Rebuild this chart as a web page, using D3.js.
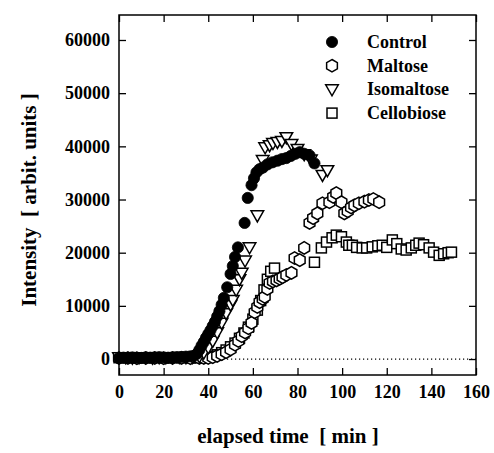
<!DOCTYPE html>
<html>
<head>
<meta charset="utf-8">
<script src="https://cdn.jsdelivr.net/npm/d3@7"></script>
<style>
  body { margin: 0; background: #fff; }
</style>
</head>
<body>
<svg id="chart" width="494" height="453"></svg>
<script>
// elapsed time [min] and intensity [arbit. units]
const controlTime  = [0, 2, 4, 6, 8, 10, 12, 14, 16, 18, 20, 22, 24, 26, 28, 30, 32, 33.5, 35, 36, 37, 38, 39, 40, 41, 42, 43, 44, 45, 46, 47, 48.5, 50, 51, 52, 53.3, 56.3, 57.7, 59.4, 60.5, 61.6, 63, 64.5, 66.5, 68.8, 71, 73, 75, 77, 79, 81, 83, 85.4, 87.6];
const controlValue = [200, 250, 200, 300, 250, 200, 300, 250, 300, 350, 300, 250, 300, 350, 400, 450, 500, 600, 1000, 1700, 2500, 3200, 4000, 4700, 5400, 6200, 7000, 8000, 9000, 10200, 11500, 13500, 16000, 17500, 19200, 21000, 25600, 30300, 32700, 34000, 35100, 35700, 36000, 36600, 37000, 37300, 37600, 37800, 38200, 38600, 38900, 38600, 38300, 36800];

const maltoseTime  = [0, 4, 8, 12, 16, 20, 24, 28, 32, 36, 38, 40, 42, 44, 46, 48, 50, 52, 53.5, 55, 56.5, 58, 59.4, 60.8, 62, 63, 64.4, 65.3, 66.5, 67.5, 69, 70.6, 72, 73.3, 75, 77.3, 78.7, 81, 83, 85.4, 87, 88.9, 91.2, 94.3, 96, 97.4, 99.7, 101, 102.5, 104, 105.5, 107.5, 110, 112, 114, 116.6];
const maltoseValue = [200, 200, 150, 200, 200, 150, 200, 200, 150, 200, 200, 200, 350, 600, 900, 1300, 1800, 2700, 3400, 4300, 5000, 5800, 6800, 8800, 9800, 10700, 11300, 11700, 13200, 14300, 14600, 14800, 15100, 15400, 15800, 16200, 19000, 18600, 20900, 25600, 26500, 27400, 29300, 29500, 30500, 31200, 29500, 27400, 27800, 28500, 28900, 29300, 29600, 29900, 30100, 29500];

const isomaltoseTime  = [0, 3, 6, 9, 12, 15, 18, 21, 24, 27, 30, 33, 36, 38, 40, 42, 44, 46, 48, 50, 51, 52.5, 54, 55, 56.5, 58.5, 62, 64.4, 65.5, 67.5, 69, 71, 73, 75, 77.3, 80, 83, 86, 91.2, 93.4];
const isomaltoseValue = [300, 300, 250, 300, 300, 250, 300, 300, 300, 350, 300, 350, 500, 1200, 2200, 3400, 5000, 6800, 8600, 10200, 11100, 13000, 15000, 16200, 18500, 21000, 27000, 37400, 39800, 40200, 40600, 40800, 41000, 41700, 40400, 39500, 38500, 37500, 34600, 35500];

const cellobioseTime  = [0, 4, 8, 12, 16, 20, 24, 28, 32, 36, 38, 40, 42, 44, 46, 48, 50, 52, 54, 56, 58, 60, 62, 63.5, 65, 66.5, 68, 69.7, 87.6, 90.7, 93, 95.5, 97.4, 99.7, 101.9, 103, 104.6, 106.5, 109, 111, 113.5, 116, 118, 120, 122.5, 124.5, 126.5, 128.7, 131, 133, 134.5, 136.5, 139, 141, 143.5, 145.5, 147.5, 149];
const cellobioseValue = [250, 250, 200, 250, 250, 200, 250, 250, 200, 250, 250, 300, 500, 800, 1200, 1700, 2300, 3000, 3900, 4900, 6000, 7500, 9200, 11000, 13000, 15000, 16500, 17100, 18200, 20900, 22000, 22800, 23300, 23000, 22000, 21400, 21400, 21000, 20900, 20900, 21100, 21300, 21400, 21000, 22400, 21700, 20700, 20500, 20900, 21400, 21800, 21500, 20900, 20100, 19500, 19800, 20000, 20100];

const seriesNames = ["Control", "Maltose", "Isomaltose", "Cellobiose"];
const xTicks = [0, 20, 40, 60, 80, 100, 120, 140, 160];
const yTicks = [0, 10000, 20000, 30000, 40000, 50000, 60000];

const serif = "'Liberation Serif', 'DejaVu Serif', serif";

const svg = d3.select("#chart");
const x = d3.scaleLinear([0, 160], [119, 476]);
const y = d3.scaleLinear([-3000, 64700], [375, 15]);

// marker shapes, centred on 0,0
const shapes = {
  Control: g => g.append("circle").attr("r", 5.6).attr("fill", "#000").attr("stroke", "#000").attr("stroke-width", 0.8),
  Maltose: g => g.append("path")
    .attr("d", d3.line()(d3.range(6).map(i => {
      const a = Math.PI / 3 * i;
      return [6.2 * Math.sin(a), -6.2 * Math.cos(a)];
    })) + "Z")
    .attr("fill", "#fff").attr("stroke", "#000").attr("stroke-width", 1.5),
  Isomaltose: g => g.append("path").attr("d", "M-6.3,-4.6L6.3,-4.6L0,6.4Z")
    .attr("fill", "#fff").attr("stroke", "#000").attr("stroke-width", 1.5),
  Cellobiose: g => g.append("rect").attr("x", -5).attr("y", -5).attr("width", 10).attr("height", 10)
    .attr("fill", "#fff").attr("stroke", "#000").attr("stroke-width", 1.5)
};

// zero line
svg.append("line")
  .attr("x1", x(0)).attr("x2", x(160))
  .attr("y1", y(0)).attr("y2", y(0))
  .attr("stroke", "#000").attr("stroke-width", 1.2)
  .attr("stroke-dasharray", "1.2,2.8");

function drawSeries(name, times, values) {
  const pts = times.map((t, i) => ({ t, v: values[i] }));
  svg.append("g").attr("class", "series")
    .selectAll("g")
    .data(pts)
    .join("g")
    .attr("transform", d => `translate(${x(d.t)},${y(d.v)})`)
    .each(function () { shapes[name](d3.select(this)); });
}

drawSeries("Cellobiose", cellobioseTime, cellobioseValue);
drawSeries("Maltose", maltoseTime, maltoseValue);
drawSeries("Isomaltose", isomaltoseTime, isomaltoseValue);
drawSeries("Control", controlTime, controlValue);

// axes with inward ticks on all four sides
const axisStyle = g => {
  g.attr("font-family", serif).attr("font-weight", "bold").attr("font-size", 18);
  g.select(".domain").remove();
  g.selectAll(".tick line").attr("stroke", "#000").attr("stroke-width", 1.3);
  g.selectAll(".tick text").attr("fill", "#000");
};

svg.append("g").attr("transform", "translate(0,375)")
  .call(d3.axisBottom(x).tickValues(xTicks).tickSize(-7).tickPadding(10).tickFormat(d3.format("d")))
  .call(axisStyle);
svg.append("g").attr("transform", "translate(0,15)")
  .call(d3.axisTop(x).tickValues(xTicks).tickSize(-7).tickFormat(""))
  .call(axisStyle);
svg.append("g").attr("transform", "translate(119,0)")
  .call(d3.axisLeft(y).tickValues(yTicks).tickSize(-7).tickPadding(9).tickFormat(d3.format("d")))
  .call(axisStyle);
svg.append("g").attr("transform", "translate(476,0)")
  .call(d3.axisRight(y).tickValues(yTicks).tickSize(-7).tickFormat(""))
  .call(axisStyle);

// frame
svg.append("rect")
  .attr("x", 119).attr("y", 15).attr("width", 357).attr("height", 360)
  .attr("fill", "none").attr("stroke", "#000").attr("stroke-width", 1.5);

// axis titles
svg.append("text")
  .attr("x", 288).attr("y", 443)
  .attr("text-anchor", "middle")
  .attr("font-family", serif).attr("font-weight", "bold").attr("font-size", 21)
  .style("white-space", "pre")
  .text("elapsed time  [ min ]");
svg.append("text")
  .attr("transform", "translate(36,200) rotate(-90)")
  .attr("text-anchor", "middle")
  .attr("font-family", serif).attr("font-weight", "bold").attr("font-size", 21)
  .style("white-space", "pre")
  .text("Intensity  [ arbit. units ]");

// legend
const legend = svg.append("g");
seriesNames.forEach((name, i) => {
  const row = legend.append("g").attr("transform", `translate(332,${42 + i * 23.7})`);
  shapes[name](row);
  row.append("text").attr("x", 35).attr("y", 6)
    .attr("font-family", serif).attr("font-weight", "bold").attr("font-size", 18)
    .text(name);
});
</script>
</body>
</html>
